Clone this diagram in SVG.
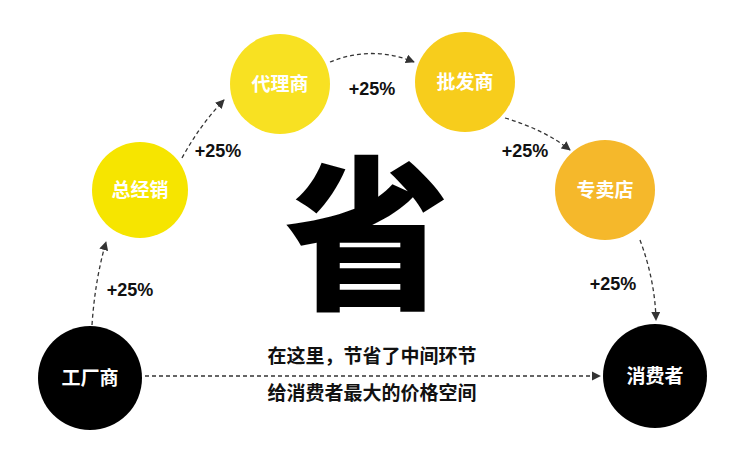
<svg xmlns="http://www.w3.org/2000/svg" width="752" height="454" viewBox="0 0 752 454">
<style>
.n{font-family:"Noto Sans CJK SC",sans-serif;font-weight:bold;font-size:19px;text-anchor:middle}
.p{font-family:"Liberation Sans",sans-serif;font-weight:bold;font-size:18px;text-anchor:middle;fill:#111}
.c{fill:none;stroke:#333;stroke-width:1.3;stroke-dasharray:4 3}
.t{font-family:"Noto Sans CJK SC",sans-serif;font-weight:bold;font-size:19px;text-anchor:middle;fill:#111}
</style>
<defs><marker id="a" viewBox="0 0 10 10" refX="9" refY="5" markerWidth="7" markerHeight="7" orient="auto"><path d="M0,0L10,5L0,10z" fill="#333"/></marker></defs>
<rect width="752" height="454" fill="#fff"/>
<g id="connectors">
<path class="c" d="M92,325 Q95,280 106,242" marker-end="url(#a)"/>
<path class="c" d="M182,158 Q200,125 224,100" marker-end="url(#a)"/>
<path class="c" d="M330,62 Q372,45 414,62" marker-end="url(#a)"/>
<path class="c" d="M505,118 Q545,130 570,150" marker-end="url(#a)"/>
<path class="c" d="M640,240 Q655,280 656,320" marker-end="url(#a)"/>
<path class="c" d="M145,376 L600,376" stroke-dasharray="2 2" marker-end="url(#a)"/>
</g>
<g id="n1"><circle cx="90" cy="378" r="52" fill="#000"/><text class="n" x="90" y="385" fill="#fff">工厂商</text></g>
<g id="n2"><circle cx="140" cy="190" r="48" fill="#f6e500"/><text class="n" x="140" y="197" fill="#fff">总经销</text></g>
<g id="n3"><circle cx="280" cy="84" r="50" fill="#f8e122"/><text class="n" x="280" y="91" fill="#fff">代理商</text></g>
<g id="n4"><circle cx="465" cy="82" r="50" fill="#f7cd1c"/><text class="n" x="465" y="89" fill="#fff">批发商</text></g>
<g id="n5"><circle cx="605" cy="190" r="50" fill="#f5b82b"/><text class="n" x="605" y="197" fill="#fff">专卖店</text></g>
<g id="n6"><circle cx="655" cy="376" r="52" fill="#000"/><text class="n" x="655" y="383" fill="#fff">消费者</text></g>
<text class="p" x="130" y="296">+25%</text>
<text class="p" x="218" y="157">+25%</text>
<text class="p" x="372" y="95">+25%</text>
<text class="p" x="525" y="157">+25%</text>
<text class="p" x="613" y="290">+25%</text>
<text x="367" y="296" font-family="Noto Sans CJK SC,sans-serif" font-weight="900" font-size="165" text-anchor="middle" fill="#000">省</text>
<text class="t" x="372" y="363">在这里，节省了中间环节</text>
<text class="t" x="372" y="400">给消费者最大的价格空间</text>
</svg>
